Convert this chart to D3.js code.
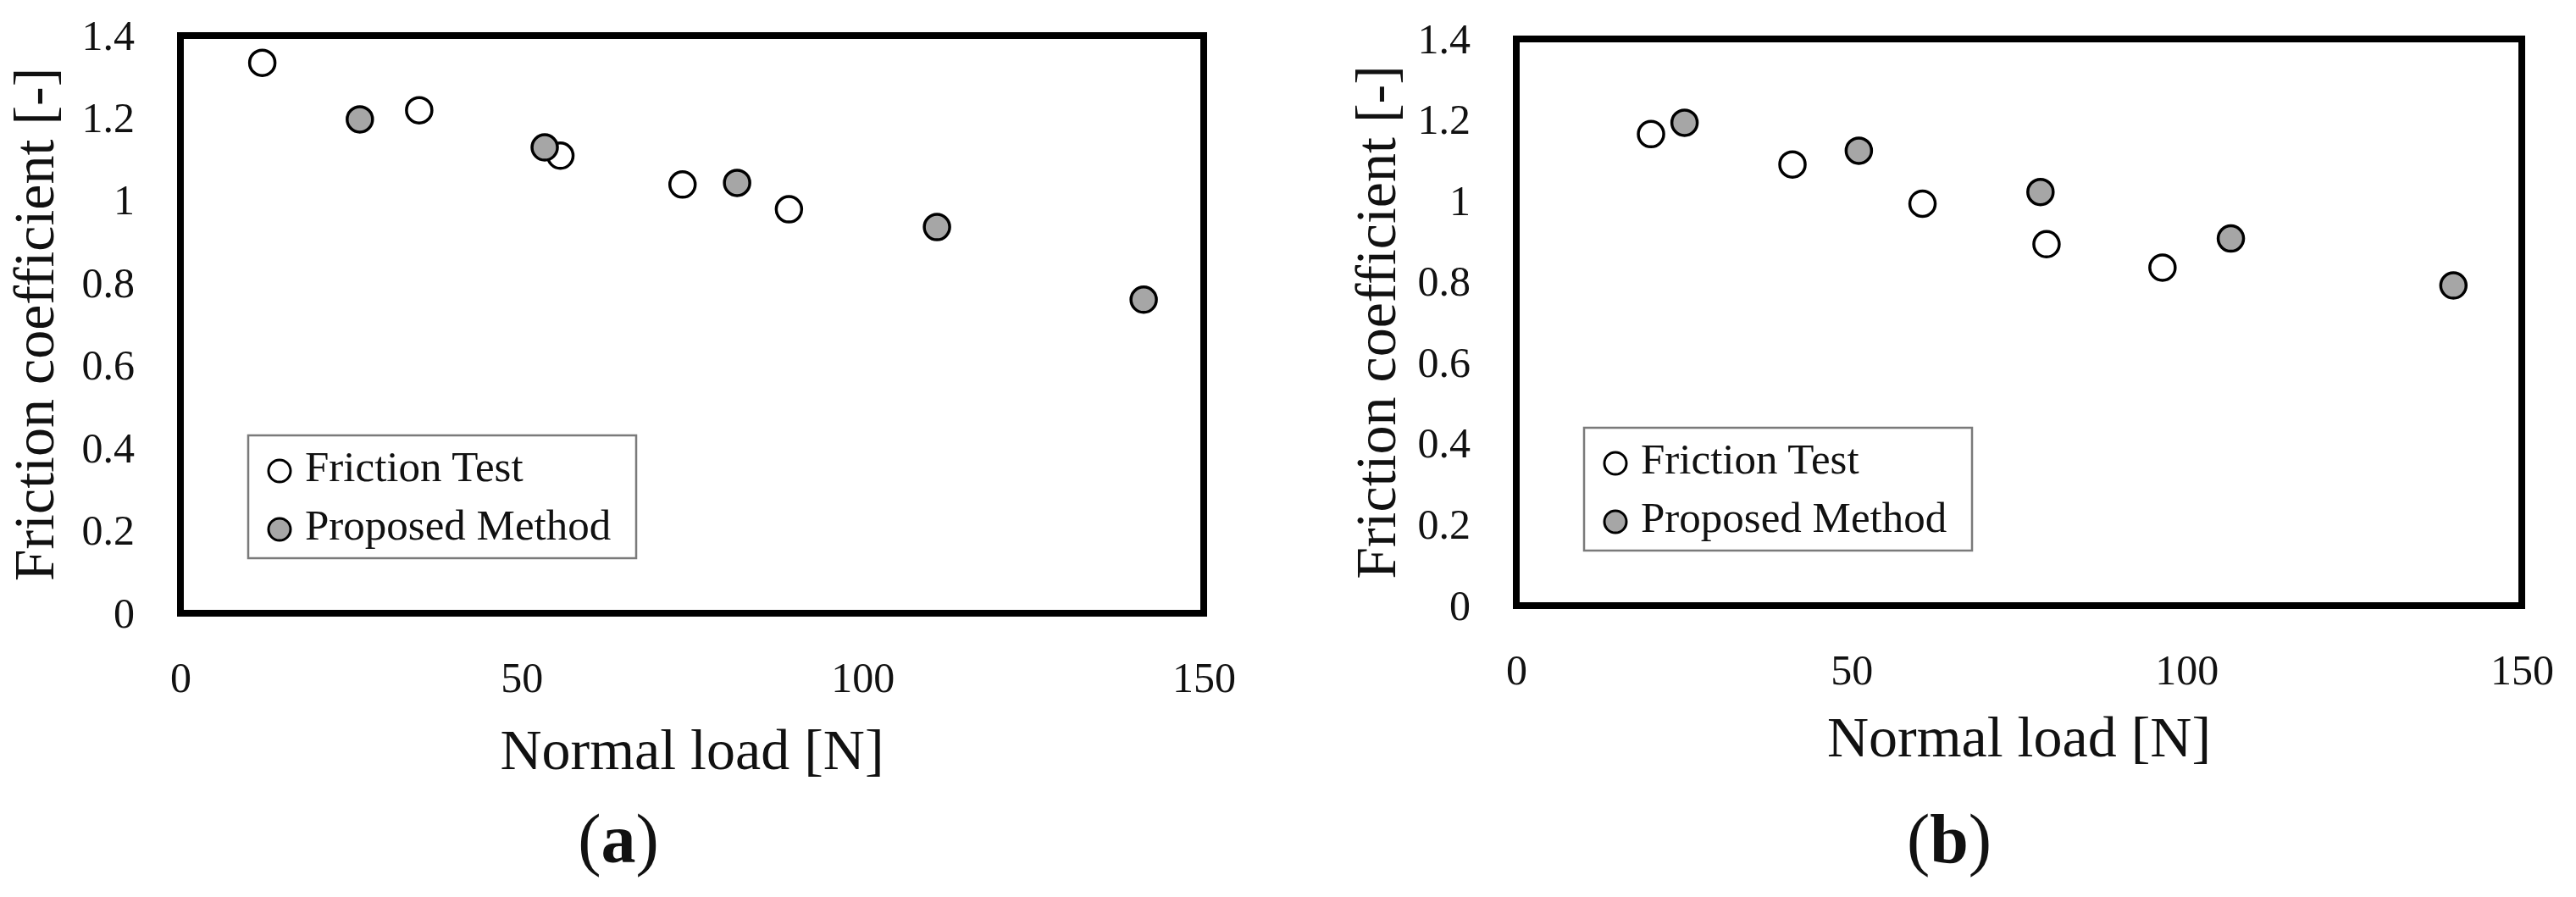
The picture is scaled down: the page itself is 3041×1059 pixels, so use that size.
<!DOCTYPE html>
<html>
<head>
<meta charset="utf-8">
<script src="https://cdn.jsdelivr.net/npm/d3@7"></script>
<style>
  body { margin: 0; background: #fff; }
  svg text { font-family: "Liberation Serif", serif; fill: #111; }
</style>
</head>
<body>
<div id="container"></div>
<script>
// chart values
const xTicks = [0, 50, 100, 150];
const yTicks = [0, 0.2, 0.4, 0.6, 0.8, 1, 1.2, 1.4];
const seriesNames = ["Friction Test", "Proposed Method"];

// panel (a)
const aFrictionLoad = [12.0, 35.0, 55.7, 73.6, 89.2];
const aFrictionMu = [1.334, 1.219, 1.109, 1.039, 0.979];
const aProposedLoad = [26.3, 53.4, 81.6, 110.9, 141.2];
const aProposedMu = [1.197, 1.129, 1.043, 0.936, 0.76];

// panel (b)
const bFrictionLoad = [20.1, 41.2, 60.6, 79.1, 96.4];
const bFrictionMu = [1.165, 1.09, 0.993, 0.893, 0.835];
const bProposedLoad = [25.1, 51.1, 78.2, 106.6, 139.8];
const bProposedMu = [1.193, 1.124, 1.022, 0.907, 0.791];

const width = 3041,
  height = 1059;

const fills = { "Friction Test": "#ffffff", "Proposed Method": "#a6a6a6" };

const svg = d3
  .select("#container")
  .append("svg")
  .attr("width", width)
  .attr("height", height)
  .attr("font-family", "Liberation Serif, serif");

function toPoints(loads, mus) {
  return loads.map((d, i) => ({ x: d, y: mus[i] }));
}

function drawPanel(p) {
  const g = svg.append("g").attr("class", "panel");

  const x = d3.scaleLinear().domain([0, 150]).range([p.left, p.right]);
  const y = d3.scaleLinear().domain([0, 1.4]).range([p.bottom, p.top]);

  // y axis labels
  g.append("g")
    .attr("transform", `translate(${x(0)},0)`)
    .call(
      d3.axisLeft(y)
        .tickValues(yTicks)
        .tickSize(0)
        .tickPadding(54)
        .tickFormat(d => String(+d.toFixed(1)))
    )
    .attr("font-family", null)
    .attr("font-size", "50px")
    .call(ax => ax.select(".domain").remove());

  // x axis labels
  g.append("g")
    .attr("transform", `translate(0,${y(0)})`)
    .call(d3.axisBottom(x).tickValues(xTicks).tickSize(0).tickPadding(57))
    .attr("font-family", null)
    .attr("font-size", "50px")
    .call(ax => ax.select(".domain").remove());

  g.selectAll(".tick text").attr("fill", "#111");

  // points
  const series = [
    { name: seriesNames[0], data: toPoints(p.frictionLoad, p.frictionMu) },
    { name: seriesNames[1], data: toPoints(p.proposedLoad, p.proposedMu) }
  ];

  series.forEach(s => {
    g.append("g")
      .selectAll("circle")
      .data(s.data)
      .enter()
      .append("circle")
      .attr("cx", d => x(d.x))
      .attr("cy", d => y(d.y))
      .attr("r", 15)
      .attr("fill", fills[s.name])
      .attr("stroke", "#000")
      .attr("stroke-width", 3.5);
  });

  // plot frame
  g.append("rect")
    .attr("x", x(0))
    .attr("y", y(1.4))
    .attr("width", x(150) - x(0))
    .attr("height", y(0) - y(1.4))
    .attr("fill", "none")
    .attr("stroke", "#000")
    .attr("stroke-width", 8);

  // legend
  const lx = x(0) + 80,
    lh = 145,
    ly = y(0) - 65 - lh;
  const legend = g.append("g").attr("transform", `translate(${lx},${ly})`);
  legend
    .append("rect")
    .attr("width", 458)
    .attr("height", lh)
    .attr("fill", "#fff")
    .attr("stroke", "#7a7a7a")
    .attr("stroke-width", 2.5);

  const items = legend
    .selectAll(".legend-item")
    .data(seriesNames)
    .enter()
    .append("g")
    .attr("class", "legend-item")
    .attr("transform", (d, i) => `translate(0,${42 + i * 69})`);
  items
    .append("circle")
    .attr("cx", 37)
    .attr("r", 13)
    .attr("fill", d => fills[d])
    .attr("stroke", "#000")
    .attr("stroke-width", 3);
  items
    .append("text")
    .attr("x", 67)
    .attr("y", 12)
    .attr("font-size", "51px")
    .text(d => d);

  // axis titles
  g.append("text")
    .attr("x", (x(0) + x(150)) / 2)
    .attr("y", y(0) + p.xTitleOffset)
    .attr("text-anchor", "middle")
    .attr("font-size", "68px")
    .text("Normal load [N]");

  g.append("text")
    .attr(
      "transform",
      `translate(${x(0) - p.yTitleOffset},${(y(0) + y(1.4)) / 2}) rotate(-90)`
    )
    .attr("text-anchor", "middle")
    .attr("font-size", "68px")
    .text("Friction coefficient [-]");

  // panel tag
  const tag = g.append("text")
    .attr("x", p.tagX)
    .attr("y", 1018)
    .attr("text-anchor", "middle")
    .attr("font-size", "82px");
  tag.append("tspan").text("(");
  tag.append("tspan").attr("font-weight", "bold").text(p.tag);
  tag.append("tspan").text(")");
}

drawPanel({
  left: 213, right: 1421, top: 42, bottom: 724,
  frictionLoad: aFrictionLoad, frictionMu: aFrictionMu,
  proposedLoad: aProposedLoad, proposedMu: aProposedMu,
  xTitleOffset: 184, yTitleOffset: 150,
  tag: "a", tagX: 730
});

drawPanel({
  left: 1790, right: 2977, top: 46, bottom: 715,
  frictionLoad: bFrictionLoad, frictionMu: bFrictionMu,
  proposedLoad: bProposedLoad, proposedMu: bProposedMu,
  xTitleOffset: 178, yTitleOffset: 143,
  tag: "b", tagX: 2301
});
</script>
</body>
</html>
